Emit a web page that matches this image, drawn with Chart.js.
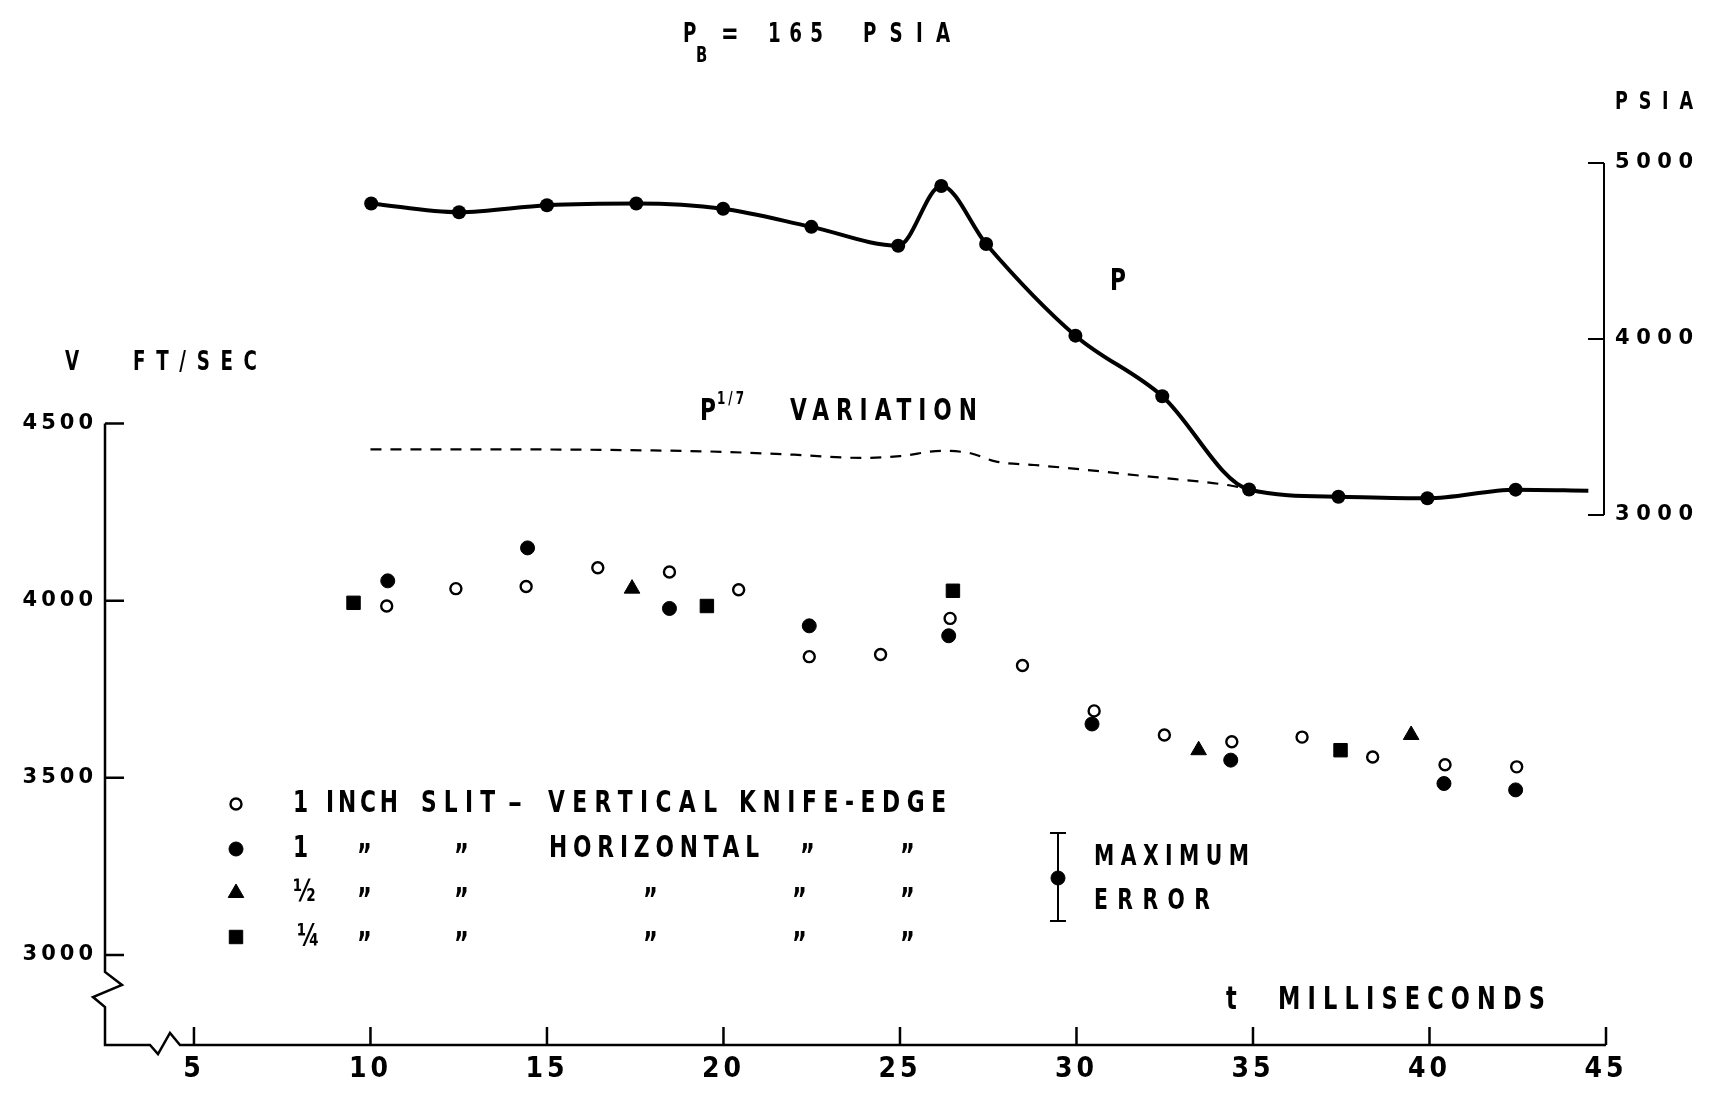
<!DOCTYPE html>
<html>
<head>
<meta charset="utf-8">
<script src="https://cdn.jsdelivr.net/npm/chart.js@4.4.1/dist/chart.umd.min.js"></script>
<style>
    html, body { margin: 0; padding: 0; background: #fff; }
    #wrap { width: 1725px; height: 1093px; }
</style>
</head>
<body>
<div id="wrap"><canvas id="chart" width="1725" height="1093"></canvas></div>
<script>
"use strict";

// chamber pressure P, psia (right axis)
var pressureTimes = [10.02, 12.51, 15.0, 17.53, 19.99, 22.49, 24.95, 26.17, 27.44, 29.97, 32.43, 34.89, 37.42, 39.94, 42.44, 44.5];
var pressureValues = [4770, 4720, 4760, 4770, 4740, 4637, 4530, 4869, 4540, 4019, 3675, 3145, 3104, 3095, 3144, 3138];

// P^1/7 variation, ft/sec (left axis)
var sevenTimes = [10.0, 14.0, 18.0, 20.0, 22.0, 23.9, 25.0, 26.2, 27.0, 27.7, 28.8, 30.3, 31.4, 32.8, 34.1, 34.8];
var sevenValues = [4427, 4427, 4424, 4420, 4412, 4403, 4408, 4423, 4416, 4393, 4383, 4369, 4357, 4343, 4329, 4317];

// 1 inch slit, vertical knife-edge
var vertTimes = [10.46, 12.42, 14.41, 16.44, 18.47, 20.43, 22.43, 24.45, 26.42, 28.47, 30.5, 32.49, 34.4, 36.39, 38.39, 40.44, 42.47];
var vertValues = [3985, 4034, 4040, 4093, 4081, 4031, 3842, 3848, 3950, 3817, 3689, 3621, 3602, 3615, 3559, 3537, 3531];

// 1 inch slit, horizontal knife-edge
var horizTimes = [10.49, 14.45, 18.47, 22.43, 26.38, 30.44, 34.37, 40.41, 42.44];
var horizValues = [4056, 4149, 3978, 3929, 3901, 3652, 3550, 3484, 3466];

// 1/2 inch slit
var halfTimes = [17.41, 33.46, 39.48];
var halfValues = [4034, 3578, 3621];

// 1/4 inch slit
var quarterTimes = [9.52, 19.53, 26.5, 37.48];
var quarterValues = [3994, 3985, 4028, 3578];

var timeTicks = [5, 10, 15, 20, 25, 30, 35, 40, 45];
var velocityTicks = [3000, 3500, 4000, 4500];
var pressureTicks = [3000, 4000, 5000];

var LETTERS = '"DejaVu Sans Condensed", "DejaVu Sans", sans-serif';
var DIGITS = '"DejaVu Sans", sans-serif';

function toPoints(xs, ys)
{
    return xs.map(function(x, i)
    {
        return { x: x, y: ys[i] };
    });
}

// lettering: narrow, spaced out so that it runs from x0 to x1
function spread(ctx, text, x0, x1, y, size, family, squeeze)
{
    var sx = squeeze || 0.78;
    ctx.save();
    ctx.translate(x0, y);
    ctx.scale(sx, 1);
    ctx.font = "bold " + size + "px " + (family || LETTERS);
    ctx.letterSpacing = "0px";
    var count = Array.from(text).length;
    if (count > 1 && x1 != null)
    {
        var w = ctx.measureText(text).width;
        ctx.letterSpacing = (((x1 - x0) / sx - w) / (count - 1)) + "px";
    }
    ctx.fillText(text, 0, 0);
    ctx.restore();
}

var symbolStyles = {
    open: { pointStyle: "circle", radius: 5.5, rotation: 0, borderWidth: 2.4 },
    filled: { pointStyle: "circle", radius: 7, rotation: 0, borderWidth: 1 },
    triangle: { pointStyle: "triangle", radius: 9, rotation: 0, borderWidth: 1 },
    square: { pointStyle: "rect", radius: 9.5, rotation: 0, borderWidth: 1 }
};

function symbol(ctx, kind, x, y)
{
    ctx.save();
    ctx.strokeStyle = "#000";
    ctx.fillStyle = kind === "open" ? "#fff" : "#000";
    ctx.lineWidth = symbolStyles[kind].borderWidth;
    Chart.helpers.drawPoint(ctx, symbolStyles[kind], x, y);
    ctx.restore();
}

function drawAxes(chart)
{
    var ctx = chart.ctx;
    var area = chart.chartArea;
    var xs = chart.scales.x;
    var ys = chart.scales.y;
    var ps = chart.scales.y2;
    var left = area.left;
    var bottom = area.bottom;

    ctx.save();
    ctx.strokeStyle = "#000";
    ctx.lineWidth = 2.5;
    ctx.lineJoin = "miter";

    var top = ys.getPixelForValue(velocityTicks[velocityTicks.length - 1]);
    var brk = ys.getPixelForValue(velocityTicks[0]) + 17;
    ctx.beginPath();
    ctx.moveTo(left, top);
    ctx.lineTo(left, brk);
    ctx.lineTo(left + 17, brk + 13);
    ctx.lineTo(left - 12, brk + 25);
    ctx.lineTo(left, brk + 35);
    ctx.lineTo(left, bottom);
    ctx.lineTo(left + 45, bottom);
    ctx.lineTo(left + 53, bottom + 9);
    ctx.lineTo(left + 65, bottom - 12);
    ctx.lineTo(left + 75, bottom);
    ctx.lineTo(xs.getPixelForValue(45), bottom);
    ctx.stroke();

    ctx.beginPath();
    velocityTicks.forEach(function(v)
    {
        var py = ys.getPixelForValue(v);
        ctx.moveTo(left, py);
        ctx.lineTo(left + 19, py);
    });
    timeTicks.forEach(function(t)
    {
        var px = xs.getPixelForValue(t);
        ctx.moveTo(px, bottom);
        ctx.lineTo(px, bottom - 18);
    });
    ctx.stroke();

    // pressure axis on the right
    var xr = area.right - 2;
    ctx.lineWidth = 2;
    ctx.beginPath();
    ctx.moveTo(xr, ps.getPixelForValue(pressureTicks[pressureTicks.length - 1]));
    ctx.lineTo(xr, ps.getPixelForValue(pressureTicks[0]));
    pressureTicks.forEach(function(p)
    {
        var py = ps.getPixelForValue(p);
        ctx.moveTo(xr, py);
        ctx.lineTo(xr - 16, py);
    });
    ctx.stroke();

    ctx.fillStyle = "#000";
    ctx.textBaseline = "middle";
    ctx.textAlign = "left";
    pressureTicks.forEach(function(p)
    {
        spread(ctx, String(p), xr + 11, xr + 89, ps.getPixelForValue(p), 21, DIGITS, 1);
    });
    ctx.restore();
}

function drawNotes(chart)
{
    var ctx = chart.ctx;
    ctx.save();
    ctx.fillStyle = "#000";
    ctx.textBaseline = "middle";
    ctx.textAlign = "left";

    var notes = [
        ["P", 683, null, 35, 26],
        ["B", 696, null, 57, 21],
        ["=", 721, null, 35, 30],
        ["165", 768, 823, 35, 26],
        ["PSIA", 863, 950, 35, 26],
        ["PSIA", 1615, 1693, 102, 25],
        ["V", 65, null, 363, 26],
        ["FT/SEC", 133, 257, 363, 26],
        ["P", 1110, null, 282, 31],
        ["P", 700, null, 412, 31],
        ["1/7", 717, 744, 400, 17],
        ["VARIATION", 790, 977, 412, 31],
        ["1", 293, null, 804, 31],
        ["INCH", 326, 398, 804, 31],
        ["SLIT", 421, 495, 804, 31],
        ["\u2013", 508, null, 804, 31, 1],
        ["VERTICAL", 548, 717, 804, 31],
        ["KNIFE-EDGE", 739, 946, 804, 31],
        ["1", 293, null, 849, 31],
        ["HORIZONTAL", 549, 759, 849, 31],
        ["\u00bd", 293, null, 893, 31],
        ["\u00bc", 297, null, 937, 31],
        ["MAXIMUM", 1094, 1249, 857, 29],
        ["ERROR", 1094, 1210, 901, 29],
        ["t", 1226, null, 1001, 32],
        ["MILLISECONDS", 1278, 1545, 1001, 32]
    ];
    notes.forEach(function(n)
    {
        spread(ctx, n[0], n[1], n[2], n[3], n[4], null, n[5]);
    });

    // ditto marks
    var dittos = [
        [849, [357, 454, 800, 900]],
        [893, [357, 454, 643, 792, 900]],
        [937, [357, 454, 643, 792, 900]]
    ];
    dittos.forEach(function(row)
    {
        row[1].forEach(function(x)
        {
            spread(ctx, "\u201d", x, null, row[0] + 9, 32);
        });
    });

    symbol(ctx, "open", 236, 804);
    symbol(ctx, "filled", 236, 849);
    symbol(ctx, "triangle", 236, 893);
    symbol(ctx, "square", 236, 937);

    // maximum error key
    ctx.strokeStyle = "#000";
    ctx.lineWidth = 2;
    ctx.beginPath();
    ctx.moveTo(1058, 833);
    ctx.lineTo(1058, 921);
    ctx.moveTo(1050, 833);
    ctx.lineTo(1066, 833);
    ctx.moveTo(1050, 921);
    ctx.lineTo(1066, 921);
    ctx.stroke();
    symbol(ctx, "filled", 1058, 878);
    ctx.restore();
}

var paperPlugin = {
    id: "paper",
    beforeDraw: function(chart)
    {
        var ctx = chart.ctx;
        ctx.save();
        ctx.fillStyle = "#fff";
        ctx.fillRect(0, 0, chart.width, chart.height);
        ctx.restore();
        ctx.letterSpacing = "4px";
    },
    afterDraw: function(chart)
    {
        drawAxes(chart);
        drawNotes(chart);
    }
};

var pressureRadii = pressureTimes.map(function(t, i)
{
    return i === pressureTimes.length - 1 ? 0 : 7;
});

var ctx = document.getElementById("chart").getContext("2d");
var chart = new Chart(ctx,
{
    type: "scatter",
    data: {
        datasets: [
            {
                label: "P",
                data: toPoints(pressureTimes, pressureValues),
                yAxisID: "y2",
                showLine: true,
                cubicInterpolationMode: "monotone",
                borderColor: "#000",
                borderWidth: 4,
                backgroundColor: "#000",
                pointRadius: pressureRadii,
                pointBorderWidth: 0
            },
            {
                label: "P^1/7 variation",
                data: toPoints(sevenTimes, sevenValues),
                yAxisID: "y",
                showLine: true,
                cubicInterpolationMode: "monotone",
                borderColor: "#000",
                borderWidth: 2.2,
                borderDash: [11, 9],
                pointRadius: 0
            },
            {
                label: "1 inch slit - vertical knife-edge",
                data: toPoints(vertTimes, vertValues),
                yAxisID: "y",
                pointStyle: "circle",
                pointRadius: 5.5,
                pointBorderWidth: 2.4,
                borderColor: "#000",
                backgroundColor: "#fff"
            },
            {
                label: "1 inch slit - horizontal knife-edge",
                data: toPoints(horizTimes, horizValues),
                yAxisID: "y",
                pointStyle: "circle",
                pointRadius: 7,
                pointBorderWidth: 1,
                borderColor: "#000",
                backgroundColor: "#000"
            },
            {
                label: "1/2 inch slit",
                data: toPoints(halfTimes, halfValues),
                yAxisID: "y",
                pointStyle: "triangle",
                pointRadius: 9,
                pointBorderWidth: 1,
                borderColor: "#000",
                backgroundColor: "#000"
            },
            {
                label: "1/4 inch slit",
                data: toPoints(quarterTimes, quarterValues),
                yAxisID: "y",
                pointStyle: "rect",
                pointRadius: 9.5,
                pointBorderWidth: 1,
                borderColor: "#000",
                backgroundColor: "#000"
            }
        ]
    },
    options: {
        responsive: false,
        animation: false,
        devicePixelRatio: 1,
        layout: { padding: { top: 60, right: 119, bottom: 0, left: 0 } },
        plugins: {
            legend: { display: false },
            tooltip: { enabled: false }
        },
        scales: {
            x: {
                type: "linear",
                min: 2.48,
                max: 45,
                grid: { display: false, drawTicks: false },
                border: { display: false },
                afterBuildTicks: function(scale)
                {
                    scale.ticks = timeTicks.map(function(t) { return { value: t }; });
                },
                afterFit: function(scale) { scale.height = 48; },
                ticks: {
                    padding: 8,
                    color: "#000",
                    maxRotation: 0,
                    font: { family: LETTERS, size: 28, weight: "bold" },
                    callback: function(v) { return String(v); }
                }
            },
            y: {
                type: "linear",
                position: "left",
                min: 2746,
                max: 5526,
                grid: { display: false, drawTicks: false },
                border: { display: false },
                afterBuildTicks: function(scale)
                {
                    scale.ticks = velocityTicks.map(function(v) { return { value: v }; });
                },
                afterFit: function(scale) { scale.width = 105; },
                ticks: {
                    padding: 8,
                    color: "#000",
                    font: { family: DIGITS, size: 21, weight: "bold" },
                    callback: function(v) { return String(v); }
                }
            },
            y2: {
                type: "linear",
                position: "right",
                display: false,
                min: -11,
                max: 5585
            }
        }
    },
    plugins: [paperPlugin]
});
</script>
</body>
</html>
